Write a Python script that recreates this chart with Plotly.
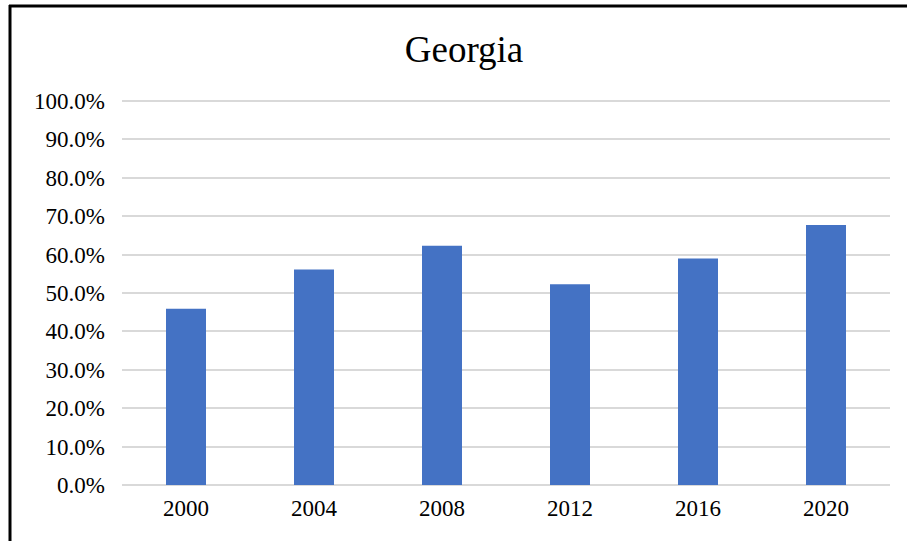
import plotly.graph_objects as go

years = ["2000", "2004", "2008", "2012", "2016", "2020"]
share = [0.459, 0.561, 0.623, 0.523, 0.590, 0.677]
y_ticks = [0.0, 0.1, 0.2, 0.3, 0.4, 0.5, 0.6, 0.7, 0.8, 0.9, 1.0]

FONT = "Liberation Serif, Times New Roman, serif"

fig = go.Figure(
    go.Bar(x=years, y=share, marker=dict(color="#4472C4", line=dict(width=0)))
)

W, H = 907, 541
L, R, T, B = 122, 17, 98, 56
pw, ph = W - L - R, H - T - B
Y_MAX = 1.0078


def px_x(px):
    return (px - L) / pw


def px_y(py):
    return (H - B - py) / ph


fig.update_layout(
    width=W,
    height=H,
    margin=dict(l=L, r=R, t=T, b=B, pad=0),
    paper_bgcolor="white",
    plot_bgcolor="white",
    showlegend=False,
    bargap=0.6875,
    font=dict(family=FONT, color="black", size=23),
    title=dict(
        text="Georgia",
        font=dict(family=FONT, size=37, color="black"),
        x=464 / W,
        xref="container",
        xanchor="center",
        y=1 - 49 / H,
        yref="container",
        yanchor="middle",
    ),
    xaxis=dict(
        type="category",
        showgrid=False,
        showline=False,
        ticks="",
        tickfont=dict(family=FONT, size=23, color="black"),
        ticklabelstandoff=7,
    ),
    yaxis=dict(
        range=[0, Y_MAX],
        tickvals=y_ticks,
        tickformat=".1%",
        showgrid=True,
        gridcolor="#D9D9D9",
        gridwidth=1.5,
        zeroline=True,
        zerolinecolor="#D9D9D9",
        zerolinewidth=1.5,
        showline=False,
        ticks="",
        tickfont=dict(family=FONT, size=23, color="black"),
        ticklabelstandoff=16,
    ),
    shapes=[
        dict(type="line", xref="paper", yref="paper",
             x0=px_x(9), x1=px_x(910), y0=px_y(6), y1=px_y(6),
             line=dict(color="black", width=3)),
        dict(type="line", xref="paper", yref="paper",
             x0=px_x(10), x1=px_x(10), y0=px_y(5), y1=px_y(545),
             line=dict(color="black", width=3)),
    ],
)

fig.write_html("out.html")
